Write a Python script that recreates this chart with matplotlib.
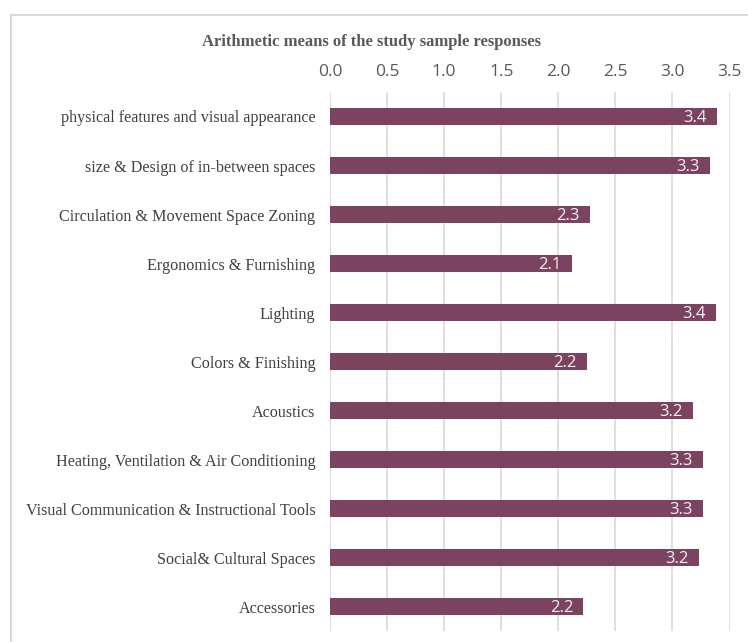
import matplotlib.pyplot as plt
from matplotlib.patches import Rectangle

categories = ['physical features and visual appearance', 'size & Design of in-between spaces',
              'Circulation & Movement Space Zoning', 'Ergonomics & Furnishing', 'Lighting',
              'Colors & Finishing', 'Acoustics', 'Heating, Ventilation & Air Conditioning',
              'Visual Communication & Instructional Tools', 'Social& Cultural Spaces', 'Accessories']
means = [3.39, 3.33, 2.28, 2.12, 3.38, 2.25, 3.18, 3.27, 3.27, 3.23, 2.22]
ticks = [0.0, 0.5, 1.0, 1.5, 2.0, 2.5, 3.0, 3.5]

fig = plt.figure(figsize=(7.48, 6.42), dpi=100)
ax = fig.add_axes([0.4412, 0.0171, 0.5341, 0.8396])

y = list(range(len(categories)))
ax.barh(y, means, height=0.35, color='#7C4361', zorder=3)
for yi, v in zip(y, means):
    ax.text(v - 0.09, yi + 0.04, f'{v:.1f}', ha='right', va='center', color='#f2f2f2',
            fontsize=12, family='Open Sans', zorder=4)

ax.set_xlim(0, 3.5)
ax.set_ylim(len(categories) - 0.5, -0.5)
ax.set_xticks(ticks)
ax.set_xticklabels([f'{t:.1f}' for t in ticks], family='Open Sans', fontsize=12.5, color='#595959')
ax.xaxis.tick_top()
ax.tick_params(axis='x', length=0, pad=8.5)
ax.set_yticks(y)
ax.set_yticklabels(categories, family='Liberation Serif', fontsize=11.6, color='#404040')
ax.tick_params(axis='y', length=0, pad=10.5)
ax.grid(axis='x', color='#d9d9d9', linewidth=1.2, zorder=0)
for s in ax.spines.values():
    s.set_visible(False)

fig.text(0.497, 0.935, 'Arithmetic means of the study sample responses', ha='center', va='center',
         family='Liberation Serif', fontsize=12, fontweight='bold', color='#595959')

fig.patches.append(Rectangle((11 / 748, -0.1), 1.2, 1 - 15 / 642 + 0.1, transform=fig.transFigure,
                             fill=False, edgecolor='#d9d9d9', linewidth=1.5))

fig.savefig('out.png', dpi=100)
